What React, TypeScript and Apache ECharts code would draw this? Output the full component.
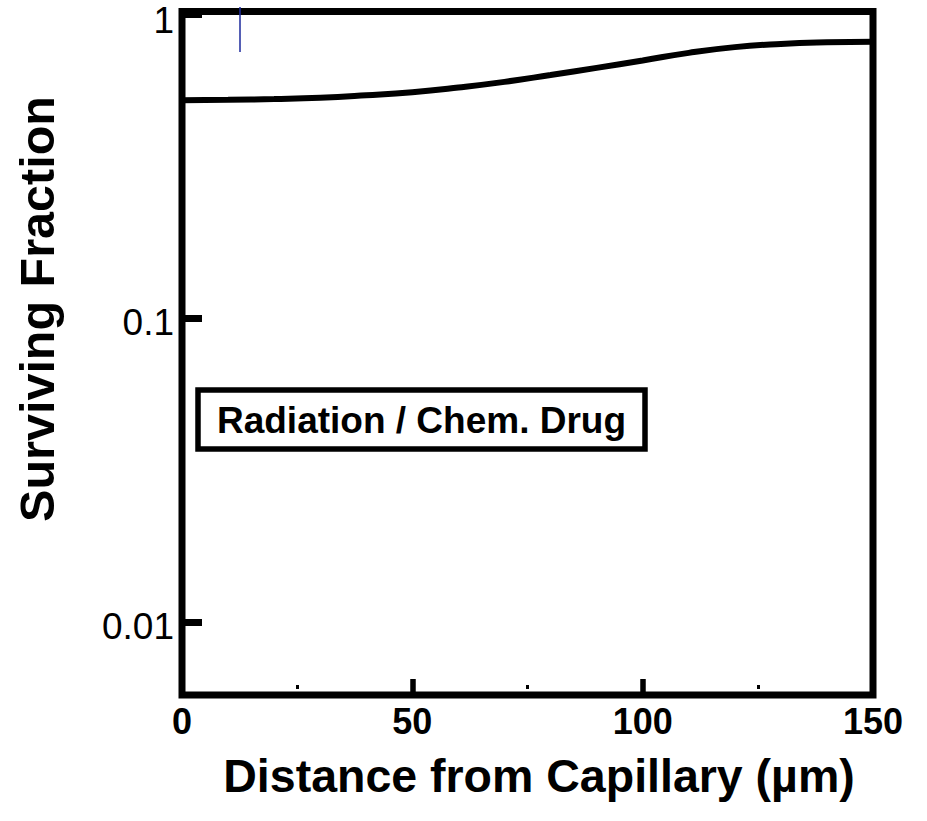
import React, { useEffect, useRef } from "react";
import * as echarts from "echarts";

const distances = [0, 10, 20, 30, 40, 50, 60, 70, 80, 90, 100, 110, 120, 130, 140, 150];
const survivingFraction = [0.52, 0.522, 0.525, 0.53, 0.54, 0.553, 0.573, 0.598, 0.63, 0.665, 0.703, 0.745, 0.778, 0.797, 0.807, 0.811];
const xTickLabels = ["0", "50", "100", "150"];
const yTickLabels = ["1", "0.1", "0.01"];
const boxLabel = "Radiation / Chem. Drug";
const xTitle = "Distance from Capillary (µm)";
const yTitle = "Surviving Fraction";

const FONT = "'Liberation Sans', Arial, Helvetica, sans-serif";

export default function App() {
  const ref = useRef<HTMLDivElement>(null);
  useEffect(() => {
    if (!ref.current) return;
    const chart = echarts.init(ref.current, null, { renderer: "svg" });
    const data = distances.map((d, i) => [d, survivingFraction[i]]);
    chart.setOption({
      animation: false,
      backgroundColor: "#ffffff",
      grid: {
        left: 182,
        top: 11.5,
        width: 691,
        height: 683.5,
        show: true,
        borderColor: "#000",
        borderWidth: 7,
        backgroundColor: "transparent",
        outerBoundsMode: "none",
      },
      xAxis: {
        type: "value",
        min: 0,
        max: 150,
        interval: 50,
        axisLine: { show: false },
        splitLine: { show: false },
        axisTick: { show: true, inside: true, length: 16, lineStyle: { color: "#000", width: 5.5 } },
        minorTick: {
          show: true,
          splitNumber: 2,
          length: 10,
          lineStyle: { color: "#000", width: 3, type: [0, 6, 4, 100] },
        },
        axisLabel: {
          margin: 8,
          fontFamily: FONT,
          fontWeight: "bold",
          fontSize: 36,
          color: "#000",
          formatter: (v: number) => {
            const s = String(v);
            return xTickLabels.includes(s) ? s : "";
          },
        },
      },
      yAxis: {
        type: "log",
        logBase: 10,
        min: 0.00575,
        max: 1.019,
        axisLine: { show: false },
        splitLine: { show: false },
        axisTick: { show: true, inside: true, length: 20, lineStyle: { color: "#000", width: 7 } },
        axisLabel: {
          margin: 8,
          showMinLabel: false,
          showMaxLabel: false,
          fontFamily: FONT,
          fontSize: 37,
          lineHeight: 18,
          color: "#000",
          padding: [9, 0, 0, 0],
          rich: {
            top: {
              fontFamily: FONT,
              fontSize: 37,
              lineHeight: 18,
              color: "#000",
              padding: [5, 0, 0, 0],
            },
          },
          formatter: (v: number) => {
            const s = String(+Number(v).toPrecision(3));
            if (!yTickLabels.includes(s)) return "";
            return s === yTickLabels[0] ? `{top|${s}}` : s;
          },
        },
      },
      series: [
        {
          type: "line",
          data,
          smooth: true,
          showSymbol: false,
          symbol: "none",
          lineStyle: { color: "#000", width: 6 },
        },
      ],
      graphic: [
        {
          type: "line",
          shape: { x1: 240, y1: 7, x2: 240, y2: 52 },
          style: { stroke: "#1c2a9c", lineWidth: 1.5 },
          z: 100,
        },
        {
          type: "rect",
          shape: { x: 198, y: 390, width: 447, height: 59 },
          style: { fill: "#fff", stroke: "#000", lineWidth: 5.5 },
          z: 100,
        },
        {
          type: "text",
          x: 421.5,
          y: 420,
          style: {
            text: boxLabel,
            fontFamily: FONT,
            fontWeight: "bold",
            fontSize: 37,
            fill: "#000",
            align: "center",
            verticalAlign: "middle",
          },
          z: 101,
        },
        {
          type: "text",
          x: 539,
          y: 776,
          style: {
            text: xTitle,
            fontFamily: FONT,
            fontWeight: "bold",
            fontSize: 46.5,
            fill: "#000",
            align: "center",
            verticalAlign: "middle",
          },
        },
        {
          type: "text",
          x: 37,
          y: 309,
          rotation: Math.PI / 2,
          style: {
            text: yTitle,
            fontFamily: FONT,
            fontWeight: "bold",
            fontSize: 48.5,
            fill: "#000",
            align: "center",
            verticalAlign: "middle",
          },
        },
      ],
    });
    return () => chart.dispose();
  }, []);
  return (
    <div
      ref={ref}
      style={{ position: "fixed", left: 0, top: 0, width: 927, height: 821, background: "#fff" }}
    />
  );
}
